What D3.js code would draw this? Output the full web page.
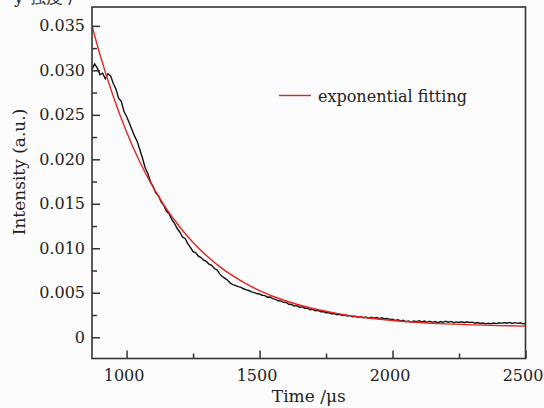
<!DOCTYPE html>
<html><head><meta charset="utf-8">
<script src="https://cdn.jsdelivr.net/npm/d3@7"></script>
<style>
html,body{margin:0;padding:0;background:#fcfcfc;}
svg{display:block;}
text{font-family:"DejaVu Serif",serif;fill:#222;}
</style></head><body>
<svg id="c" width="544" height="408"></svg>
<script>
// Measured data (time in µs, intensity in a.u.)
const measuredTime = d3.range(870, 2501, 10);
const measuredIntensity = [
0.03010,0.03072,0.03025,0.02950,0.02968,0.02905,0.02962,0.02938,0.02851,0.02790,
0.02688,0.02652,0.02540,0.02481,0.02410,0.02335,0.02260,0.02201,0.02108,0.02012,
0.01902,0.01840,0.01748,0.01695,0.01620,0.01592,0.01520,0.01482,0.01415,0.01388,
0.01322,0.01281,0.01225,0.01183,0.01128,0.01110,0.01052,0.01010,0.00962,0.00948,
0.00912,0.00895,0.00866,0.00852,0.00821,0.00808,0.00772,0.00758,0.00712,0.00683,
0.00662,0.00641,0.00608,0.00592,0.00581,0.00568,0.00560,0.00545,0.00532,0.00525,
0.00510,0.00502,0.00491,0.00486,0.00472,0.00468,0.00450,0.00452,0.00434,0.00426,
0.00410,0.00408,0.00392,0.00390,0.00370,0.00368,0.00352,0.00355,0.00338,0.00341,
0.00326,0.00326,0.00310,0.00314,0.00298,0.00302,0.00286,0.00289,0.00276,0.00276,
0.00264,0.00266,0.00254,0.00258,0.00246,0.00251,0.00238,0.00243,0.00230,0.00236,
0.00224,0.00230,0.00219,0.00228,0.00215,0.00226,0.00213,0.00221,0.00209,0.00219,
0.00206,0.00212,0.00201,0.00202,0.00188,0.00196,0.00183,0.00190,0.00176,0.00182,
0.00170,0.00183,0.00176,0.00186,0.00172,0.00182,0.00168,0.00180,0.00167,0.00176,
0.00165,0.00177,0.00168,0.00180,0.00169,0.00178,0.00164,0.00172,0.00166,0.00174,
0.00163,0.00173,0.00165,0.00170,0.00158,0.00166,0.00155,0.00160,0.00150,0.00157,
0.00150,0.00160,0.00153,0.00163,0.00156,0.00166,0.00157,0.00167,0.00155,0.00164,
0.00156,0.00162,0.00150,0.00155
];
// Exponential fitting curve
const fitTime = [870,900,950,1000,1050,1100,1150,1200,1250,1300,1350,1400,1450,1500,1600,1700,1800,1900,2000,2100,2200,2300,2400,2500];
const fitIntensity = [0.03500,0.03177,0.02706,0.02308,0.01970,0.01685,0.01443,0.01239,0.01065,0.00919,0.00794,0.00689,0.00600,0.00525,0.00407,0.00323,0.00263,0.00219,0.00188,0.00166,0.00150,0.00139,0.00131,0.00125];
const xTicks = [1000,1500,2000,2500];
const xMinorTicks = [1250,1750,2250];
const yTicks = [0,0.005,0.010,0.015,0.020,0.025,0.030,0.035];
const yTickLabels = ["0","0.005","0.010","0.015","0.020","0.025","0.030","0.035"];
const yMinorTicks = [0.0025,0.0075,0.0125,0.0175,0.0225,0.0275,0.0325];
const legendLabel = "exponential fitting";
const xTitle = "Time /\u03bcs";
const yTitle = "Intensity (a.u.)";

const svg = d3.select("#c");
const L=92, R=525.5, T=7, B=358.5;
const x = d3.scaleLinear().domain([870,2500]).range([L,R]);
const y = d3.scaleLinear().domain([-0.00239,0.03712]).range([B,T]);

svg.append("defs").append("clipPath").attr("id","clip")
  .append("rect").attr("x",L).attr("y",T).attr("width",R-L).attr("height",B-T);

// text cut off at the top edge, as in the reference
svg.append("text").attr("x",14).attr("y",3).attr("font-size",17)
  .attr("font-family","Noto Sans CJK SC").text("y 强度 /");

const g = svg.append("g").attr("clip-path","url(#clip)");
const measured = measuredTime.map((t,i)=>[t,measuredIntensity[i]]);
g.append("path").datum(measured)
  .attr("fill","none").attr("stroke","#111").attr("stroke-width",1.4)
  .attr("d", d3.line().x(d=>x(d[0])).y(d=>y(d[1])));
const fit = fitTime.map((t,i)=>[t,fitIntensity[i]]);
g.append("path").datum(fit)
  .attr("fill","none").attr("stroke","#e8221c").attr("stroke-width",1.4)
  .attr("d", d3.line().curve(d3.curveMonotoneX).x(d=>x(d[0])).y(d=>y(d[1])));

// axes
const axisColor="#333";
const xa = svg.append("g").attr("transform",`translate(0,${B})`)
  .call(d3.axisBottom(x).tickValues(xTicks).tickSizeInner(-8).tickSizeOuter(0).tickPadding(11).tickFormat(d3.format("d")));
const xm = svg.append("g").attr("transform",`translate(0,${B})`)
  .call(d3.axisBottom(x).tickValues(xMinorTicks).tickSizeInner(-5).tickSizeOuter(0).tickFormat(""));
const ya = svg.append("g").attr("transform",`translate(${L},0)`)
  .call(d3.axisLeft(y).tickValues(yTicks).tickSizeInner(-8).tickSizeOuter(0).tickPadding(7)
  .tickFormat((d,i)=>yTickLabels[i]));
const ym = svg.append("g").attr("transform",`translate(${L},0)`)
  .call(d3.axisLeft(y).tickValues(yMinorTicks).tickSizeInner(-5).tickSizeOuter(0).tickFormat(""));
[xa,xm,ya,ym].forEach(a=>{
  a.select(".domain").remove();
  a.selectAll("line").attr("stroke",axisColor).attr("stroke-width",1.5);
  a.selectAll("text").attr("font-family","DejaVu Serif").attr("font-size",16).attr("fill","#222");
});
xa.selectAll("text").attr("dy","0.71em").attr("dx",-3);
svg.append("rect").attr("x",L).attr("y",T).attr("width",R-L).attr("height",B-T)
  .attr("fill","none").attr("stroke",axisColor).attr("stroke-width",1.6);

// titles
svg.append("text").attr("x",(L+R)/2).attr("y",402).attr("text-anchor","middle")
  .attr("font-size",17).text(xTitle);
svg.append("text").attr("transform","translate(25,172) rotate(-90)").attr("text-anchor","middle")
  .attr("font-size",17).text(yTitle);

// legend
svg.append("line").attr("x1",279).attr("x2",311).attr("y1",95.5).attr("y2",95.5)
  .attr("stroke","#e8221c").attr("stroke-width",1.4);
svg.append("text").attr("x",318).attr("y",101.5).attr("font-size",16).text(legendLabel);
</script></body></html>
